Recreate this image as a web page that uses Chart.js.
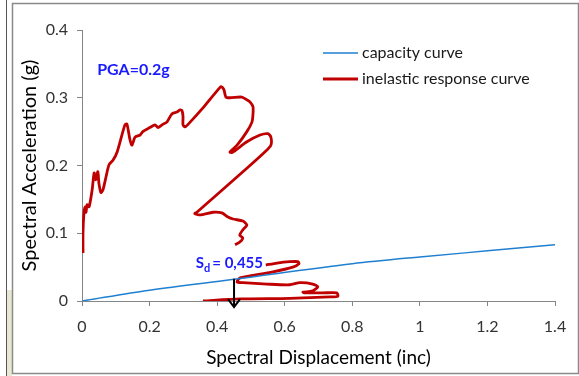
<!DOCTYPE html>
<html>
<head>
<meta charset="utf-8">
<script src="https://cdn.jsdelivr.net/npm/chart.js@4/dist/chart.umd.min.js"></script>
<style>
  html, body { margin: 0; padding: 0; background: #fff; }
</style>
</head>
<body>
<canvas id="myChart" width="579" height="376"></canvas>
<script>
'use strict';

// capacity curve (Sd, Sa)
const capX = [0, 0.2, 0.45, 0.8, 1.0, 1.2, 1.4];
const capY = [0, 0.016, 0.032, 0.055, 0.065, 0.074, 0.083];

// inelastic response curve (null = break under the label)
const respX = [
  0.003, 0.003, 0.006, 0.009, 0.012, 0.015, 0.021, 0.030, 0.036, 0.041,
  0.047, 0.050, 0.056, 0.062, 0.071, 0.080, 0.092, 0.104, 0.127, 0.133,
  0.142, 0.148, 0.157, 0.172, 0.180, 0.201, 0.216, 0.225, 0.240, 0.251,
  0.266, 0.281, 0.290, 0.296, 0.299, 0.299, 0.305, 0.320, 0.358, 0.408,
  0.414, 0.420, 0.426, 0.438, 0.473, 0.488, 0.497, 0.506, 0.506, 0.503,
  0.488, 0.459, 0.438, 0.444, 0.488, 0.527, 0.550, 0.559, 0.559, 0.541,
  0.488, 0.340, 0.334, 0.349, 0.388, 0.414, 0.432, 0.447, 0.476, 0.488,
  0.476, 0.467, 0.476, 0.467, 0.453,
  0.50,
  0.544, 0.577, 0.615, 0.639, 0.642, 0.624, 0.565, 0.497, 0.467, 0.459,
  0.476, 0.547, 0.615, 0.645, 0.683, 0.698, 0.683, 0.654, 0.660, 0.713,
  0.754, 0.757, 0.734, 0.615, 0.467, 0.358
];
const respY = [
  0.071, 0.102, 0.131, 0.139, 0.131, 0.142, 0.139, 0.164, 0.189, 0.179,
  0.191, 0.174, 0.160, 0.164, 0.183, 0.201, 0.208, 0.220, 0.260, 0.261,
  0.238, 0.230, 0.242, 0.245, 0.250, 0.256, 0.260, 0.256, 0.261, 0.264,
  0.276, 0.279, 0.282, 0.281, 0.272, 0.260, 0.257, 0.264, 0.285, 0.315,
  0.316, 0.312, 0.301, 0.300, 0.301, 0.297, 0.294, 0.287, 0.275, 0.264,
  0.250, 0.230, 0.220, 0.219, 0.235, 0.245, 0.247, 0.242, 0.230, 0.220,
  0.196, 0.131, 0.129, 0.127, 0.131, 0.130, 0.124, 0.121, 0.118, 0.112,
  0.105, 0.097, 0.093, 0.087, 0.083,
  null,
  0.053, 0.056, 0.058, 0.058, 0.055, 0.050, 0.043, 0.037, 0.034, 0.028,
  0.027, 0.025, 0.024, 0.027, 0.025, 0.021, 0.015, 0.013, 0.012, 0.012,
  0.012, 0.007, 0.006, 0.004, 0.003, 0.000
];

const seriesNames = ['capacity curve', 'inelastic response curve'];
const seriesColors = ['#1f7fd0', '#c00000'];
const xTitle = 'Spectral Displacement (inc)';
const yTitle = 'Spectral Acceleration (g)';
const pgaText = 'PGA=0.2g';
const sdValue = '0,455';
const arrowX = 0.45;

const FONT = 'Lato, "Open Sans", sans-serif';
const AXIS_GRAY = '#868686';

function toPoints(xs, ys){
    return xs.map((x, i) => ({ x: x, y: ys[i] }));
}

const overlay = {
    id: 'overlay',
    beforeDraw(chart){
        const c = chart.ctx;
        c.save();
        // slide background strip + frame
        c.fillStyle = '#e9e8d2';
        c.fillRect(7, 290, 5, 86);
        c.strokeStyle = '#555';
        c.lineWidth = 1;
        c.beginPath(); c.moveTo(6.5, 0); c.lineTo(6.5, 376); c.stroke();
        c.strokeStyle = '#8a8a8a';
        c.lineWidth = 1.5;
        c.strokeRect(12.5, 3.5, 566, 370);
        c.restore();
    },
    afterDatasetsDraw(chart){
        const c = chart.ctx;
        const xs = chart.scales.x, ys = chart.scales.y;
        c.save();

        // arrow down to Sd
        const ax = xs.getPixelForValue(arrowX);
        const ay0 = ys.getPixelForValue(0.033);
        const ay1 = ys.getPixelForValue(-0.009);
        c.strokeStyle = '#000';
        c.lineWidth = 2;
        c.beginPath();
        c.moveTo(ax, ay0); c.lineTo(ax, ay1);
        c.moveTo(ax - 6, ay1 - 8); c.lineTo(ax, ay1); c.lineTo(ax + 6, ay1 - 8);
        c.stroke();

        // text labels
        c.fillStyle = '#1a1aff';
        c.textBaseline = 'alphabetic';
        c.font = 'bold 16px ' + FONT;
        c.fillText(pgaText, xs.getPixelForValue(0.045), ys.getPixelForValue(0.333));

        const sx = xs.getPixelForValue(0.337), sy = ys.getPixelForValue(0.048);
        c.font = 'bold 15px ' + FONT;
        c.fillText('S', sx, sy);
        const sw = c.measureText('S').width;
        c.font = 'bold 11px ' + FONT;
        c.fillText('d', sx + sw, sy + 4);
        const dw = c.measureText('d').width;
        c.font = 'bold 15px ' + FONT;
        c.fillText('= ' + sdValue, sx + sw + dw + 2, sy);

        // legend
        c.font = '16px ' + FONT;
        c.textBaseline = 'middle';
        chart.data.datasets.forEach((ds, i) => {
            const y = 53 + i * 26;
            c.strokeStyle = ds.borderColor;
            c.lineWidth = ds.borderWidth;
            c.beginPath(); c.moveTo(323, y); c.lineTo(358, y); c.stroke();
            c.fillStyle = '#1a1a1a';
            c.fillText(ds.label, 362, y);
        });
        c.restore();
    }
};

const ctx = document.getElementById('myChart');
var myChart = new Chart(ctx, {
    type: 'line',
    data: {
        datasets: [{
            label: seriesNames[0],
            data: toPoints(capX, capY),
            borderColor: seriesColors[0],
            borderWidth: 1.5,
            pointRadius: 0,
            tension: 0.3,
            cubicInterpolationMode: 'monotone'
        }, {
            label: seriesNames[1],
            data: toPoints(respX, respY),
            borderColor: seriesColors[1],
            borderWidth: 2.8,
            pointRadius: 0,
            tension: 0.25,
            spanGaps: false
        }]
    },
    options: {
        responsive: false,
        animation: false,
        devicePixelRatio: 1,
        layout: { padding: { top: 30, right: 24, left: 0, bottom: 0 } },
        plugins: {
            legend: { display: false },
            tooltip: { enabled: false }
        },
        scales: {
            x: {
                type: 'linear',
                min: 0,
                max: 1.4,
                ticks: {
                    stepSize: 0.2,
                    padding: 11,
                    color: '#333',
                    font: { family: FONT, size: 16 },
                    callback: (v) => String(+v.toFixed(1))
                },
                grid: { drawOnChartArea: false, tickLength: 5, color: AXIS_GRAY },
                border: { color: AXIS_GRAY },
                title: {
                    display: true,
                    text: xTitle,
                    color: '#000',
                    font: { family: FONT, size: 19 },
                    padding: { top: 0, bottom: 7 }
                },
                afterFit: (s) => { s.height = 75; }
            },
            y: {
                type: 'linear',
                min: 0,
                max: 0.4,
                ticks: {
                    stepSize: 0.1,
                    padding: 9,
                    color: '#333',
                    font: { family: FONT, size: 16 },
                    callback: (v) => String(+v.toFixed(1))
                },
                grid: { drawOnChartArea: false, tickLength: 5, color: AXIS_GRAY },
                border: { color: AXIS_GRAY },
                title: {
                    display: true,
                    text: yTitle,
                    color: '#000',
                    font: { family: FONT, size: 20 },
                    padding: { top: 18, bottom: 0 }
                },
                afterFit: (s) => { s.width = 82; }
            }
        }
    },
    plugins: [overlay]
});
</script>
</body>
</html>
